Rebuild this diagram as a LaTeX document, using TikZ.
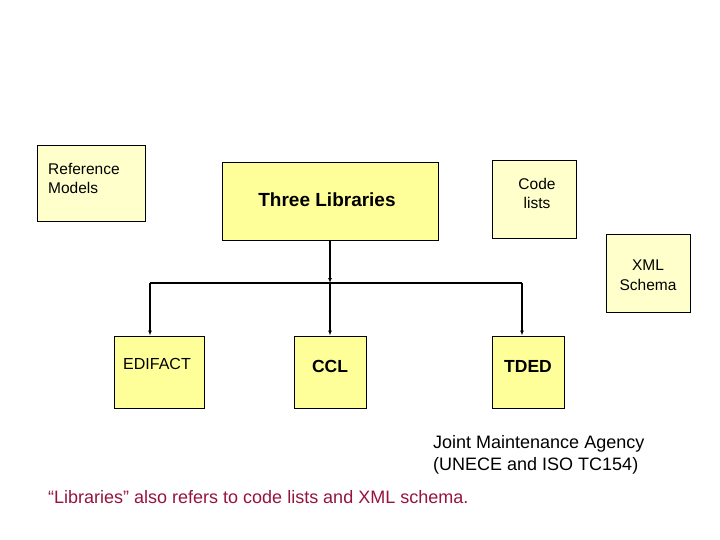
\documentclass[tikz,border=0pt]{standalone}
\usepackage{fontspec}
\setmainfont{Liberation Sans}
\usetikzlibrary{arrows.meta}
\definecolor{boxyellow}{HTML}{FFFF99}
\definecolor{paleyellow}{HTML}{FFFFCC}
\definecolor{noteRed}{RGB}{150,20,60}
\tikzset{
  box/.style={draw=black, line width=0.9pt, rectangle, inner sep=0pt},
  brightbox/.style={box, fill=boxyellow},
  palebox/.style={box, fill=paleyellow},
  conn/.style={draw=black, line width=1.2pt},
  arr/.style={conn, -{Latex[length=5pt,width=4pt]}},
  txt/.style={inner sep=0pt, align=center},
}
\begin{document}
\begin{tikzpicture}[x=1pt,y=-1pt]
\useasboundingbox (0,0) rectangle (720,540);
% boxes (positions in px of a 720x540 frame)
\node[palebox, minimum width=108pt, minimum height=76pt] (refm) at (91,183) {};
\node[txt, anchor=west, align=left, font=\fontsize{15.5}{19}\selectfont] (refmt) at (48,178) {Reference\\Models};

\node[brightbox, minimum width=216pt, minimum height=78pt] (three) at (330,201) {};
\node[txt, font=\fontsize{19}{22}\selectfont\bfseries] (threet) at (327,200) {Three Libraries};

\node[palebox, minimum width=84pt, minimum height=78pt] (code) at (534,199) {};
\node[txt, font=\fontsize{15.5}{19}\selectfont] (codet) at (537,193) {Code\\lists};

\node[palebox, minimum width=84pt, minimum height=78pt] (xml) at (648,273) {};
\node[txt, font=\fontsize{15.5}{19.5}\selectfont] (xmlt) at (648,275) {XML\\Schema};

\node[brightbox, minimum width=90pt, minimum height=72pt] (edi) at (159,372) {};
\node[txt, font=\fontsize{16}{19}\selectfont] (edit) at (157,364) {EDIFACT};

\node[brightbox, minimum width=72pt, minimum height=72pt] (ccl) at (330,372) {};
\node[txt, font=\fontsize{17.5}{20}\selectfont\bfseries] (cclt) at (330,366) {CCL};

\node[brightbox, minimum width=72pt, minimum height=72pt] (tded) at (528,372) {};
\node[txt, font=\fontsize{17.5}{20}\selectfont\bfseries] (tdedt) at (528,366) {TDED};

% connectors
\coordinate (busL) at (150,283);
\coordinate (busC) at (330,283);
\coordinate (busR) at (522,283);
\draw[conn] (busL) -- (busR);
\draw[arr] (three.south) -- (three.south |- busC);
\draw[arr] (busL) -- (busL |- edi.north);
\draw[arr] (busC) -- (busC |- ccl.north);
\draw[arr] (busR) -- (busR |- tded.north);

% texts
\node[txt, anchor=west, align=left, font=\fontsize{18}{22.5}\selectfont] (jma) at (433,455) {Joint Maintenance Agency\\(UNECE and ISO TC154)};
\node[txt, anchor=west, text=noteRed, font=\fontsize{18}{21}\selectfont] (note) at (48,497) {“Libraries” also refers to code lists and XML schema.};
\end{tikzpicture}
\end{document}
